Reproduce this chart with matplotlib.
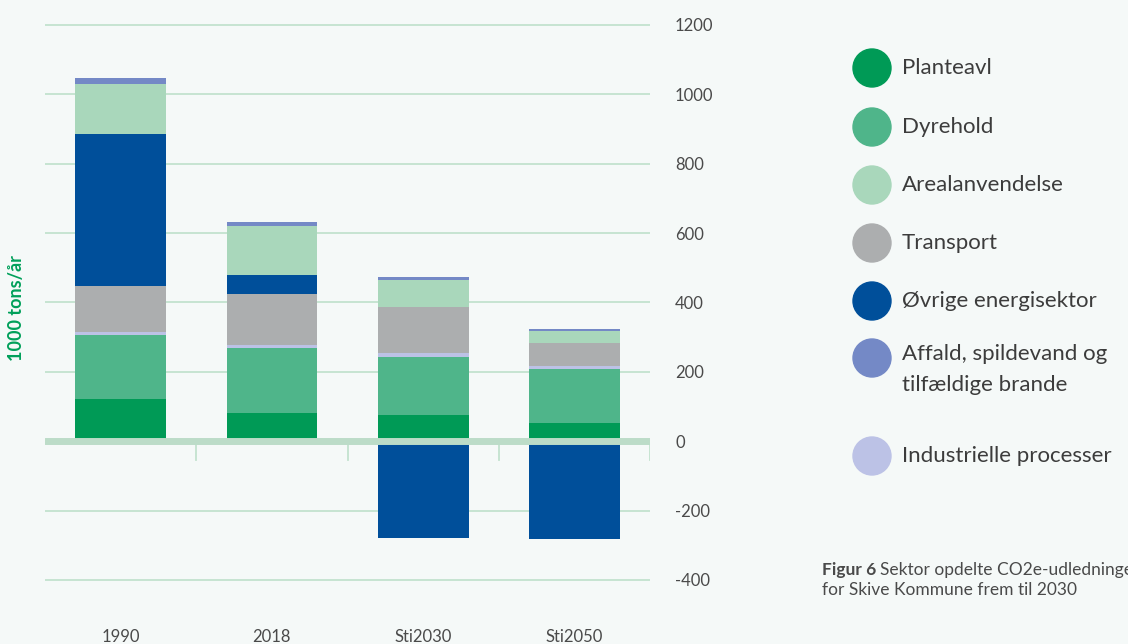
import numpy as np
import matplotlib.pyplot as plt
from matplotlib.patches import Circle

plt.rcParams['font.family'] = ['Lato', 'DejaVu Sans']

years = ["1990", "2018", "Sti2030", "Sti2050"]

# 1000 tons CO2e per sector
planteavl = [121, 81, 75, 51]
dyrehold = [185, 187, 168, 156]
industri = [9, 9, 10, 11]
transport = [132, 147, 133, 65]
ovrige = [439, 55, -280, -283]
areal = [144, 141, 78, 35]
affald = [17, 12, 8, 6]

yticks = [-400, -200, 0, 200, 400, 600, 800, 1000, 1200]

c_plant = "#009a56"
c_dyr = "#4fb58a"
c_areal = "#a9d7bb"
c_trans = "#acaeaf"
c_ovr = "#004f9a"
c_aff = "#7489c6"
c_ind = "#bcc2e6"
bg = "#f5f9f8"
gridc = "#c3e2cf"
txtc = "#4a4a4a"

fig = plt.figure(figsize=(11.28, 6.44), dpi=100, facecolor=bg)
ax = fig.add_axes([45 / 1128, 1 - 600 / 644, 605 / 1128, 590 / 644])
ax.set_facecolor(bg)

x = np.arange(len(years))
w = 0.6

for v in yticks:
    if v != 0:
        ax.axhline(v, color=gridc, lw=1.3, zorder=0)

pos_ovr = [max(v, 0) for v in ovrige]
neg_ovr = [min(v, 0) for v in ovrige]

bottom = np.zeros(len(years))
for vals, col in [(planteavl, c_plant), (dyrehold, c_dyr), (industri, c_ind),
                  (transport, c_trans), (pos_ovr, c_ovr), (areal, c_areal),
                  (affald, c_aff)]:
    ax.bar(x, vals, w, bottom=bottom, color=col, zorder=2)
    bottom = bottom + np.array(vals)

ax.bar(x, neg_ovr, w, color=c_ovr, zorder=2)

ax.axhline(0, color="#bcdcc8", lw=5, zorder=3, solid_capstyle="round")
for b in x + 0.5:
    ax.plot([b, b], [-10, -55], color=gridc, lw=1.3, zorder=1)

ax.set_xlim(-0.5, 3.5)
ax.set_ylim(-458, 1243)
ax.set_xticks(x)
ax.set_xticklabels(years)
ax.yaxis.tick_right()
ax.set_yticks(yticks)
ax.set_yticklabels([str(v) if v >= 0 else "-" + str(-v) for v in yticks])
ax.tick_params(axis="both", length=0, labelsize=12, colors=txtc)
ax.tick_params(axis="x", pad=21)
ax.tick_params(axis="y", pad=18)
for s in ax.spines.values():
    s.set_visible(False)

fig.text(17 / 1128, 1 - 308 / 644, "1000 tons/år", rotation=90, color="#00a05a",
         fontsize=13, fontweight="bold", ha="center", va="center")

# legend
labels = ["Planteavl", "Dyrehold", "Arealanvendelse", "Transport",
          "Øvrige energisektor", "Affald, spildevand og\ntilfældige brande",
          "Industrielle processer"]
colors = [c_plant, c_dyr, c_areal, c_trans, c_ovr, c_aff, c_ind]
ys = [68, 127, 185, 243, 301, 358, 456]
for lab, col, yy in zip(labels, colors, ys):
    circ = Circle((872 / 100, (644 - yy) / 100), 0.19, transform=fig.dpi_scale_trans,
                  color=col)
    fig.patches.append(circ)
    if "\n" in lab:
        fig.text(902 / 1128, 1 - (yy - 14) / 644, lab, fontsize=16, color="#3c3c3c",
                 va="top", linespacing=1.7)
    else:
        fig.text(902 / 1128, 1 - yy / 644, lab, fontsize=16, color="#3c3c3c",
                 va="center")

fig.text(822 / 1128, 1 - 570 / 644, "Figur 6", fontsize=12.5, color=txtc,
         va="center", fontweight="bold")
fig.text(880 / 1128, 1 - 570 / 644, "Sektor opdelte CO2e-udledninger", fontsize=12.5,
         color=txtc, va="center")
fig.text(822 / 1128, 1 - 590 / 644, "for Skive Kommune frem til 2030", fontsize=12.5,
         color=txtc, va="center")

fig.savefig("out.png", dpi=100, facecolor=bg)
